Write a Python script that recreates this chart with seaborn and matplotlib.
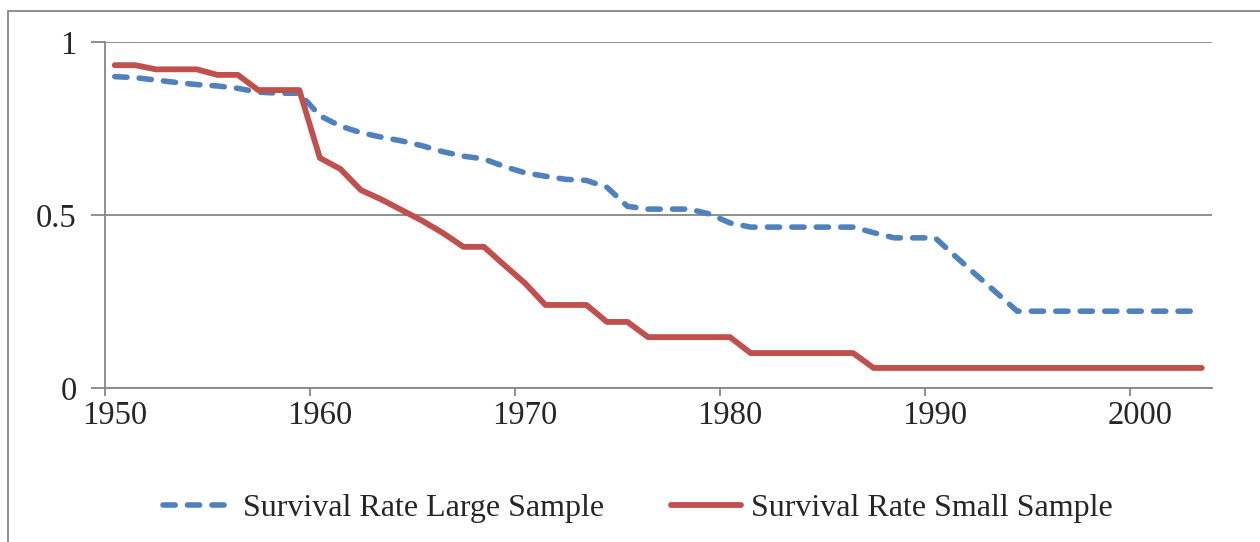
import numpy as np
import pandas as pd
import seaborn as sns
import matplotlib.pyplot as plt
from matplotlib.patches import Rectangle

# survival rates, one value per year 1950..2003
years = list(range(1950, 2004))
large_sample = [0.900, 0.897, 0.890, 0.883, 0.877, 0.873, 0.866, 0.855, 0.852, 0.852,
                0.787, 0.757, 0.738, 0.725, 0.714, 0.700, 0.683, 0.670, 0.662, 0.640,
                0.622, 0.612, 0.603, 0.600, 0.580, 0.525, 0.517, 0.517, 0.517, 0.503,
                0.477, 0.465, 0.465, 0.465, 0.465, 0.465, 0.465, 0.449, 0.434, 0.434,
                0.434, 0.380, 0.327, 0.275, 0.222, 0.222, 0.222, 0.222, 0.222, 0.222,
                0.222, 0.222, 0.222, 0.222]
small_sample = [0.933, 0.933, 0.921, 0.921, 0.921, 0.905, 0.905, 0.861, 0.861, 0.861,
                0.665, 0.633, 0.572, 0.545, 0.514, 0.483, 0.448, 0.408, 0.408, 0.355,
                0.303, 0.240, 0.240, 0.240, 0.191, 0.191, 0.147, 0.147, 0.147, 0.147,
                0.147, 0.101, 0.101, 0.101, 0.101, 0.101, 0.101, 0.058, 0.058, 0.058,
                0.058, 0.058, 0.058, 0.058, 0.058, 0.058, 0.058, 0.058, 0.058, 0.058,
                0.058, 0.058, 0.058, 0.058]
decade_labels = ['1950', '1960', '1970', '1980', '1990', '2000']

BLUE = '#4F81BD'
RED = '#C0504D'
GRAY = '#868686'

sns.set_style("white")
plt.rcParams['font.family'] = ['Liberation Serif', 'DejaVu Serif']

df = pd.DataFrame({'year': np.array(years) + 0.5,  # points sit in the middle of each year
                   'large': large_sample, 'small': small_sample})

fig = plt.figure(figsize=(12.6, 5.42), dpi=100)
ax = fig.add_axes([104.5 / 1260, 1 - 388 / 542, (1212 - 104.5) / 1260, 346 / 542])

sns.lineplot(data=df, x='year', y='large', ax=ax, color=BLUE, lw=4,
             linestyle=(0, (2.2, 2.2)), dash_capstyle='round',
             label='Survival Rate Large Sample')
sns.lineplot(data=df, x='year', y='small', ax=ax, color=RED, lw=4.2,
             solid_capstyle='round', label='Survival Rate Small Sample')

ax.set_xlim(1950, 2004)
ax.set_ylim(0, 1)
ax.set_xlabel('')
ax.set_ylabel('')

ticks = [int(t) for t in decade_labels]
ax.set_xticks(ticks)
ax.set_xticklabels([])
ax.set_xticks([t + 0.5 for t in ticks], minor=True)
ax.set_xticklabels(decade_labels, minor=True)
ax.tick_params(axis='x', which='major', direction='out', length=6, width=1.3,
               color=GRAY, bottom=True)
ax.tick_params(axis='x', which='minor', length=0, pad=9, labelsize=23.5)

ax.set_yticks([0, 0.5, 1])
ax.set_yticklabels(['0', '0.5', '1'])
ax.tick_params(axis='y', direction='out', length=10, width=1.3, color=GRAY,
               left=True, pad=10, labelsize=23.5)

ax.grid(axis='y', color=GRAY, lw=1.3)
ax.grid(axis='x', visible=False)
for side in ['top', 'right']:
    ax.spines[side].set_visible(False)
for side in ['left', 'bottom']:
    ax.spines[side].set_color(GRAY)
    ax.spines[side].set_linewidth(1.3)
    ax.spines[side].set_zorder(0.5)

ax.get_legend().remove()
handles, labels = ax.get_legend_handles_labels()
fig.legend(handles, labels, loc='center', bbox_to_anchor=(0.506, 1 - 508 / 542),
           ncol=2, frameon=False, fontsize=23, handlelength=2.2,
           handletextpad=0.3, columnspacing=2.1)

# outer chart frame, partly cut by the image edge
fig.patches.append(Rectangle((8 / 1260, -0.05), 1.0, 1.05 - 11 / 542,
                             transform=fig.transFigure, fill=False,
                             edgecolor=GRAY, lw=1.3))

fig.savefig('out.png', dpi=100)
